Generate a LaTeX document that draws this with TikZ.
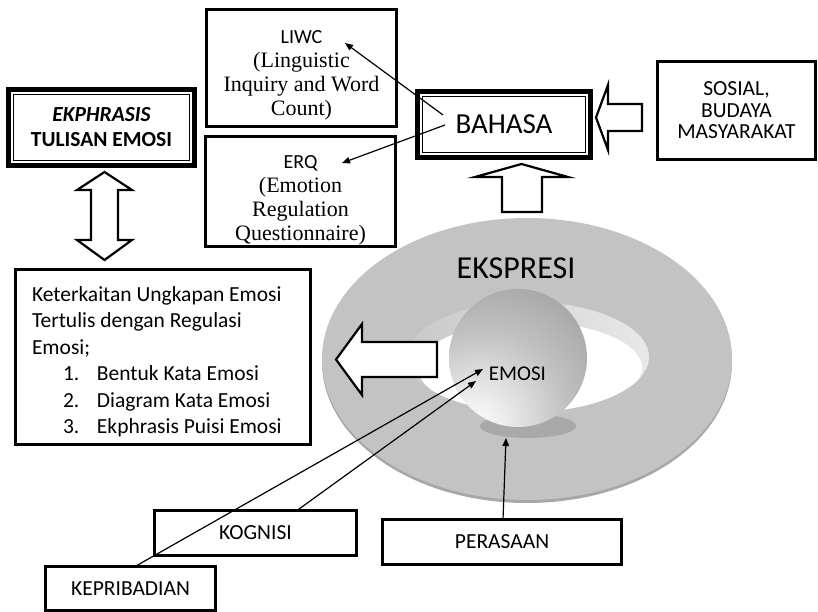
\documentclass[tikz,border=0pt]{standalone}
\usepackage{fontspec}
\setmainfont{Carlito}
\newfontfamily\calface{Carlito}
\newfontfamily\timesface{Liberation Serif}
\usetikzlibrary{arrows.meta}

% colours of the ring and the ball
\definecolor{ringface}{HTML}{C3C3C3}
\definecolor{ringrim}{HTML}{A7A7A7}
\definecolor{bevelleft}{HTML}{C9C9C9}
\definecolor{bevelmid}{HTML}{ABABAB}
\definecolor{bevelright}{HTML}{E8E8E8}
\definecolor{ballhi}{HTML}{FFFFFF}
\definecolor{balllight}{HTML}{EFEFEF}
\definecolor{ballmid}{HTML}{C0C0C0}
\definecolor{ballgrey}{HTML}{9E9E9E}
\definecolor{balldark}{HTML}{8A8A8A}
\definecolor{balledge}{HTML}{808080}
\definecolor{ballshadow}{HTML}{A9A9A9}

% ball lit from the lower left
\pgfdeclareradialshading{emosiball}{\pgfpoint{-18bp}{-28bp}}{%
  color(0bp)=(ballhi); color(10bp)=(balllight); color(30bp)=(ballmid);
  color(50bp)=(ballgrey); color(70bp)=(balldark); color(100bp)=(balledge)}

\begin{document}
\begin{tikzpicture}[x=1pt, y=-1pt,
  box/.style={draw, line width=3pt, inner sep=0pt, outer sep=0pt, align=center},
  framebox/.style={draw, line width=5pt, inner sep=0pt, outer sep=0pt, align=center},
  innerframe/.style={line width=1pt},
  blockarrow/.style={draw, fill=white, line width=2.2pt, line join=miter, miter limit=10},
  link/.style={line width=1.2pt, -{Triangle[length=8pt, width=6.5pt]}},
  lbl/.style={font=\fontsize{21.5}{24}\selectfont},
  serifbox/.style={font=\timesface\fontsize{22}{24}\selectfont, align=center, inner sep=0pt},
]
\useasboundingbox (0,0) rectangle (818,612);

% ---- the EKSPRESI ring ----
\fill[ringrim] (527,362) ellipse [x radius=205, y radius=141];
\fill[ringface] (527,359) ellipse [x radius=205, y radius=141];
\begin{scope}
  \clip (528,357) ellipse [x radius=121, y radius=55];
  \shade[left color=bevelleft, middle color=bevelmid, right color=bevelright]
    (407,300) rectangle (650,414);
  \fill[white] (530,368) ellipse [x radius=112, y radius=46];
\end{scope}

% ---- the EMOSI ball ----
\fill[ballshadow] (528,426) ellipse [x radius=48, y radius=12];
\shade[shading=emosiball] (518,358) circle [radius=69];

\node[font=\fontsize{32}{36}\selectfont, anchor=base] (ekspresi) at (516,278) {EKSPRESI};
\node[font=\fontsize{21}{24}\selectfont, anchor=base] (emosi) at (517.5,380) {EMOSI};

% ---- block arrows ----
% between EKPHRASIS and the text box
\draw[blockarrow] (104.5,172) -- (132,190) -- (118,190) -- (118,240) -- (132,240)
  -- (104.5,260) -- (77,240) -- (91,240) -- (91,190) -- (77,190) -- cycle;
% from the ring up to BAHASA
\draw[blockarrow] (521.5,164) -- (568,177) -- (542,177) -- (542,212) -- (502,212)
  -- (502,177) -- (475,177) -- cycle;
% from SOSIAL to BAHASA
\draw[blockarrow] (596,117.5) -- (608,85) -- (608,104) -- (642,104) -- (642,131)
  -- (608,131) -- (608,150) -- cycle;
% from the ball to the text box
\draw[blockarrow] (336,359.5) -- (362,324) -- (362,342) -- (437,342) -- (437,377)
  -- (362,377) -- (362,395) -- cycle;

% ---- boxes ----
\node[box, minimum width=190pt, minimum height=117pt] (liwc) at (301.5,68) {};
\node[serifbox] (liwctext) at (301.5,75)
  {{\calface\fontsize{20}{24}\selectfont LIWC}\\(Linguistic\\Inquiry and Word\\Count)};

\node[box, minimum width=190pt, minimum height=110pt] (erq) at (300.5,191.5) {};
\node[serifbox] (erqtext) at (300.5,200)
  {{\calface\fontsize{20}{24}\selectfont ERQ}\\(Emotion\\Regulation\\Questionnaire)};

\node[framebox, minimum width=186pt, minimum height=76pt,
      font=\fontsize{21.5}{25}\selectfont\bfseries] (ekphrasis) at (101.5,127.5)
  {\itshape EKPHRASIS\\TULISAN EMOSI};
\draw[innerframe] ([shift={(5,5)}]ekphrasis.north west) rectangle ([shift={(-5,-5)}]ekphrasis.south east);

\node[framebox, minimum width=173pt, minimum height=66pt,
      font=\fontsize{29}{32}\selectfont] (bahasa) at (504,124.5) {BAHASA};
\draw[innerframe] ([shift={(5,5)}]bahasa.north west) rectangle ([shift={(-5,-5)}]bahasa.south east);

\node[box, minimum width=158pt, minimum height=98pt,
      font=\fontsize{21.5}{21.5}\selectfont] (sosial) at (736.5,110.5)
  {SOSIAL,\\BUDAYA\\MASYARAKAT};

\node[box, minimum width=295pt, minimum height=175pt] (keterkaitan) at (163,357) {};
\node[text width=264pt, inner sep=0pt, align=flush left,
      font=\fontsize{21.5}{26.5}\selectfont] (keterkaitantext) at (164,362)
  {Keterkaitan Ungkapan Emosi\\
   Tertulis dengan Regulasi\\
   Emosi;\\
   \hspace*{31pt}\makebox[34pt][l]{1.}Bentuk Kata Emosi\\
   \hspace*{31pt}\makebox[34pt][l]{2.}Diagram Kata Emosi\\
   \hspace*{31pt}\makebox[34pt][l]{3.}Ekphrasis Puisi Emosi};

\node[box, lbl, minimum width=202pt, minimum height=45pt] (kognisi) at (255.5,533) {KOGNISI};
\node[box, lbl, minimum width=239pt, minimum height=45pt] (perasaan) at (502,542) {PERASAAN};
\node[box, lbl, minimum width=170pt, minimum height=44pt] (kepribadian) at (130.5,588.5) {KEPRIBADIAN};

% ---- thin arrows ----
\coordinate (liwctip) at (345,43);
\coordinate (erqtip) at (342,163);
\coordinate (emosiupper) at (483,369);
\coordinate (emosilower) at (476,381);
\coordinate (ballbase) at (506,438);

\draw[link] ([shift={(25.5,-9.5)}]bahasa.west) -- (liwctip);
\draw[link] ([shift={(27.5,0.5)}]bahasa.west) -- (erqtip);
\draw[link] ([xshift=4.5pt]kepribadian.north) -- (emosiupper);
\draw[link] ([xshift=41.5pt]kognisi.north) -- (emosilower);
\draw[link] ([xshift=1pt]perasaan.north) -- (ballbase);
\end{tikzpicture}
\end{document}
